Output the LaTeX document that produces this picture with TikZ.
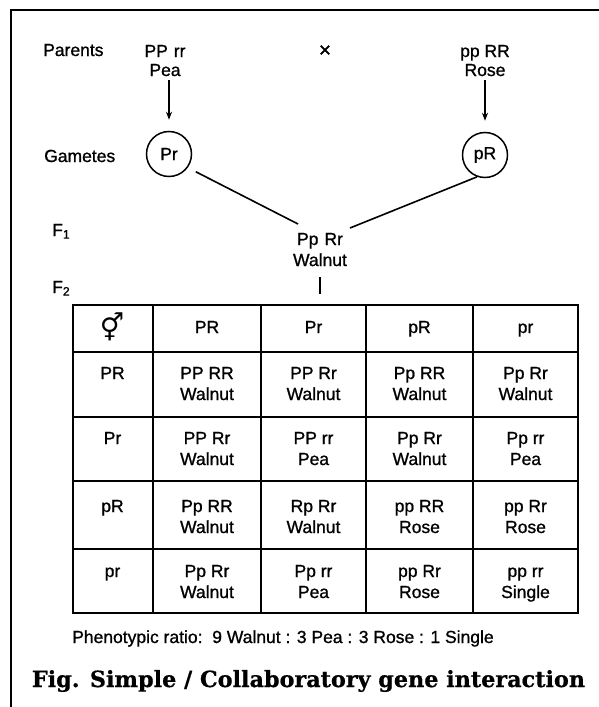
\documentclass[tikz,border=0pt]{standalone}
\usepackage{fontspec}
\setmainfont{Liberation Sans}[FakeBold=1]
\newfontfamily\symfont{DejaVu Sans}
\newfontfamily\capfont{DejaVu Serif}[FakeBold=0.6]
\usetikzlibrary{arrows.meta}
\begin{document}
\begin{tikzpicture}[x=1pt,y=-1pt,
  txt/.style={anchor=base, inner sep=0pt, font=\fontsize{17.5}{21}\selectfont},
  gam/.style={circle, draw, line width=1.5pt, minimum size=45pt, inner sep=0pt, font=\fontsize{17.5}{21}\selectfont},
  conn/.style={line width=1.6pt},
  arr/.style={line width=1.3pt, -{Stealth[length=8pt,width=6pt]}},
  gridline/.style={line width=1.8pt},
  frame/.style={line width=2pt},
]
\useasboundingbox (0,0) rectangle (599,707);
\fill[white] (0,0) rectangle (599,707);
\draw[frame] (11,707) -- (11,10) -- (599,10);

% parents
\node[txt, anchor=base west] (parents) at (43,56) {Parents};
\node[txt] (p1g) at (165,57) {PP\hspace{6pt}rr};
\node[txt] (p1p) at (165,76) {Pea};
\node[txt, font=\fontsize{21}{24}\selectfont] (cross) at (325,57) {×};
\node[txt] (p2g) at (485,57) {pp RR};
\node[txt] (p2p) at (485,76) {Rose};

% gametes
\node[txt, anchor=base west] (gametes) at (44,162) {Gametes};
\node[gam] (g1) at (169,154) {Pr};
\node[gam] (g2) at (485,155) {pR};
\draw[arr, shorten <=4pt, shorten >=11pt] (g1.north |- p1p.south) -- (g1.north);
\draw[arr, shorten <=4pt, shorten >=11pt] (g2.north |- p2p.south) -- (g2.north);

% F1
\node[txt, anchor=base west] (f1lab) at (52,236) {F\textsubscript{1}};
\node[txt] (f1g) at (320,245) {Pp\hspace{6pt}Rr};
\node[txt] (f1p) at (320,266) {Walnut};
\coordinate (f1a) at (298,224);
\coordinate (f1b) at (350,228);
\draw[conn, shorten <=9pt] (g1.-36) -- (f1a);
\draw[conn] (g2.250) -- (f1b);

% F2
\node[txt, anchor=base west] (f2lab) at (52,293) {F\textsubscript{2}};
\coordinate (tabtop) at (73,305);
\draw[line width=1.4pt, shorten <=11pt, shorten >=11pt] (f1p.south) -- (f1p.south |- tabtop);

% table grid
\draw[gridline] (73,305) rectangle (578,613);
\foreach \y in {352,417,481,549} \draw[gridline] (73,\y) -- (578,\y);
\foreach \x in {153,261,366,473} \draw[gridline] (\x,305) -- (\x,613);

% header
\node[inner sep=0pt, font=\symfont\fontsize{27}{30}\selectfont] (mf) at (112,327) {⚥};
\foreach \x/\t [count=\c] in {207/PR,313.5/Pr,419.5/pR,525.5/pr}
  \node[txt] (h\c) at (\x,333) {\t};
\foreach \y/\t [count=\r] in {379/PR,444/Pr,512/pR,577/pr}
  \node[txt] (rl\r) at (112.5,\y) {\t};

% cells
\foreach \x/\g/\p [count=\c] in {207/PP RR/Walnut, 313.5/PP Rr/Walnut, 419.5/Pp RR/Walnut, 525.5/Pp Rr/Walnut}{
  \node[txt] (r1c\c-a) at (\x,379) {\g};
  \node[txt] (r1c\c-b) at (\x,400) {\p};
}
\foreach \x/\g/\p [count=\c] in {207/PP Rr/Walnut, 313.5/PP rr/Pea, 419.5/Pp Rr/Walnut, 525.5/Pp rr/Pea}{
  \node[txt] (r2c\c-a) at (\x,444) {\g};
  \node[txt] (r2c\c-b) at (\x,465) {\p};
}
\foreach \x/\g/\p [count=\c] in {207/Pp RR/Walnut, 313.5/Rp Rr/Walnut, 419.5/pp RR/Rose, 525.5/pp Rr/Rose}{
  \node[txt] (r3c\c-a) at (\x,512) {\g};
  \node[txt] (r3c\c-b) at (\x,533) {\p};
}
\foreach \x/\g/\p [count=\c] in {207/Pp Rr/Walnut, 313.5/Pp rr/Pea, 419.5/pp Rr/Rose, 525.5/pp rr/Single}{
  \node[txt] (r4c\c-a) at (\x,577) {\g};
  \node[txt] (r4c\c-b) at (\x,598) {\p};
}

% ratio and caption
\node[txt, anchor=base west] (ratio) at (72,643) {Phenotypic ratio:\ \ 9 Walnut : 3 Pea : 3 Rose : 1 Single};
\node[anchor=base, inner sep=0pt, font=\capfont\bfseries\fontsize{22.3}{26}\selectfont] (cap) at (308.5,687) {Fig. Simple / Collaboratory gene interaction};
\end{tikzpicture}
\end{document}
